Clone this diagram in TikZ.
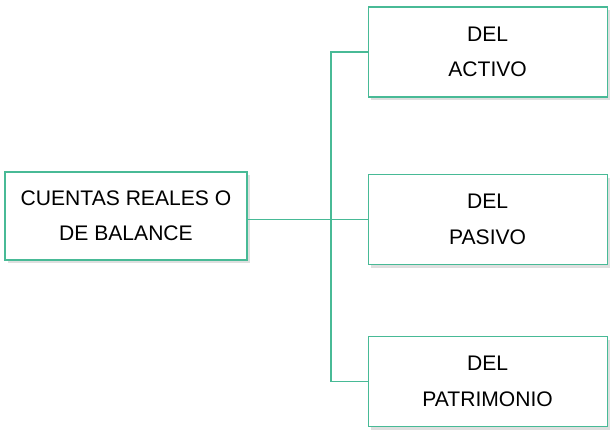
\documentclass[tikz,border=0pt]{standalone}
\usepackage{fontspec}
\setmainfont{Liberation Sans}
\usetikzlibrary{shadows}

\definecolor{cuentaverde}{RGB}{72,186,150}

\tikzset{
    cuenta/.style={draw=cuentaverde, line width=0.8pt, fill=white,
        align=center, inner sep=0pt,
        font=\fontsize{15}{25}\selectfont,
        drop shadow={shadow xshift=0.08cm, shadow yshift=-0.08cm, opacity=0.25, fill=gray}},
    rama/.style={draw=cuentaverde, line width=0.8pt}
}

\begin{document}
\begin{tikzpicture}
        \useasboundingbox (0,0) rectangle (15.35,10.775);

        %cuenta principal
        \node[cuenta, minimum width=6.05cm, minimum height=2.2cm] (cuentas) at(3.15,5.375) {CUENTAS REALES O\\DE BALANCE};

        %subcuentas
        \node[cuenta, minimum width=5.975cm, minimum height=2.25cm] (activo) at(12.19,9.475) {DEL\\ACTIVO};
        \node[cuenta, minimum width=5.975cm, minimum height=2.25cm] (pasivo) at(12.19,5.29) {DEL\\PASIVO};
        \node[cuenta, minimum width=5.975cm, minimum height=2.25cm] (patrimonio) at(12.19,1.24) {DEL\\PATRIMONIO};

        \coordinate (bus) at(8.275,5.29);

        \draw[rama] (cuentas.east |- pasivo.west)--(pasivo.west);
        \draw[rama] (activo.west)--(bus |- activo.west)--(bus |- patrimonio.west)--(patrimonio.west);

    \end{tikzpicture}
\end{document}
